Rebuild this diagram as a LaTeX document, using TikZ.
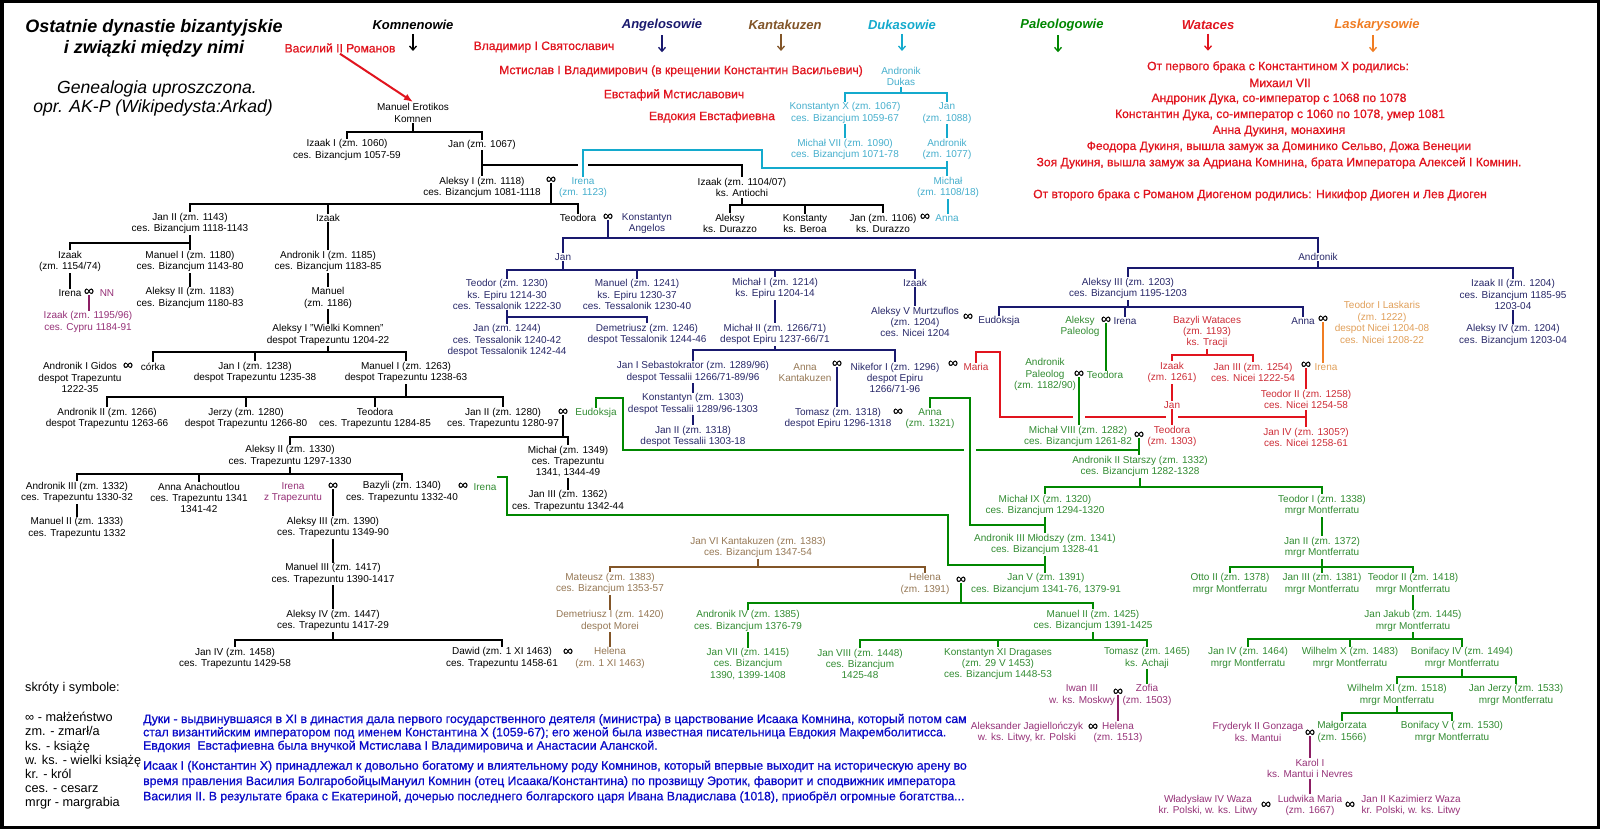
\documentclass[tikz,border=0pt]{standalone}
\usepackage{fontspec}
\setmainfont{Liberation Sans}
\newfontfamily\heavyfont[FakeBold=0.7]{Liberation Sans}
\usetikzlibrary{arrows.meta,calc}
\definecolor{cnavy}{RGB}{25,25,110}
\definecolor{tnavy}{RGB}{40,40,105}
\definecolor{cbrown}{RGB}{130,85,40}
\definecolor{tbrown}{RGB}{150,120,85}
\definecolor{ccyan}{RGB}{20,170,205}
\definecolor{tcyan}{RGB}{70,175,205}
\definecolor{cgreen}{RGB}{0,135,0}
\definecolor{tgreen}{RGB}{50,140,50}
\definecolor{cred}{RGB}{225,20,30}
\definecolor{tred}{RGB}{205,45,55}
\definecolor{corange}{RGB}{240,125,35}
\definecolor{torange}{RGB}{225,160,90}
\definecolor{cpurple}{RGB}{140,30,100}
\definecolor{tpurple}{RGB}{150,50,120}
\definecolor{cblue}{RGB}{10,10,200}
\tikzset{
  base/.style={inner sep=1.5pt, align=center, font=\fontsize{10}{11.4}\selectfont},
  nk/.style={base,text=black},
  nn/.style={base,text=tnavy},
  nc/.style={base,text=tcyan},
  ng/.style={base,text=tgreen},
  nb/.style={base,text=tbrown},
  nr/.style={base,text=tred},
  no/.style={base,text=torange},
  np/.style={base,text=tpurple},
  mar/.style={inner sep=0.5pt, font=\heavyfont\fontsize{14}{14}\selectfont, text=black},
  hd/.style={inner sep=1pt, font=\fontsize{13}{15}\selectfont\bfseries\itshape},
  harr/.style={line width=1.3pt, -{Straight Barb[length=4pt,width=7pt]}},
  ttl/.style={inner sep=0pt, font=\fontsize{18}{20}\selectfont\bfseries\itshape},
  sub/.style={inner sep=0pt, font=\fontsize{17.6}{19}\selectfont\itshape},
  ru/.style={inner sep=1pt, font=\heavyfont\fontsize{12.1}{13}\selectfont, text=cred},
  leg/.style={inner sep=0pt, anchor=west, font=\fontsize{12.7}{14}\selectfont, text height=9.5pt, text depth=3pt},
  blu/.style={inner sep=0pt, anchor=west, font=\heavyfont\fontsize{12.25}{14}\selectfont, text=cblue, text height=9pt, text depth=3pt},
  Lk/.style={line width=1.8pt, black, line cap=rect},
  Ln/.style={line width=1.8pt, cnavy, line cap=rect},
  Lc/.style={line width=1.8pt, ccyan, line cap=rect},
  Lg/.style={line width=1.8pt, cgreen, line cap=rect},
  Lb/.style={line width=1.8pt, cbrown, line cap=rect},
  Lr/.style={line width=1.8pt, cred, line cap=rect},
  Lo/.style={line width=1.8pt, corange, line cap=rect},
  Lp/.style={line width=1.8pt, cpurple, line cap=rect},
}
\newcommand\kin[6]{%
  \draw[#1] (#2) -- (#2 |- 0,#3);
  \draw[#1] (#4.north |- 0,#3) -- (#5.north |- 0,#3);
  \foreach \kid in {#6}{\draw[#1] (\kid.north) -- (\kid.north |- 0,#3);}
}
\newcommand\vl[3]{\draw[#1] (#2.south) -- (#2.south |- #3.north);}
\begin{document}
\begin{tikzpicture}[x=1pt,y=-1pt]
\useasboundingbox (0,0) rectangle (1600,829);
\fill[white] (0,0) rectangle (1600,829);
\draw[line width=3.5pt] (1.75,1.75) rectangle (1598.25,827.25);

% ---------- titles
\node[ttl] (t1) at (154,28) {Ostatnie dynastie bizantyjskie};
\node[ttl] (t2) at (154,49) {i związki między nimi};
\node[sub] (t3) at (157,89) {Genealogia uproszczona.};
\node[sub] (t4) at (153,108) {opr. AK-P (Wikipedysta:Arkad)};

% ---------- dynasty headers
\node[hd,text=black] (hKom) at (413,25) {Komnenowie};
\node[hd,text=cnavy] (hAng) at (662,25) {Angelosowie};
\node[hd,text=cbrown] (hKan) at (785,25) {Kantakuzen};
\node[hd,text=ccyan] (hDuk) at (902,25) {Dukasowie};
\node[hd,text=cgreen] (hPal) at (1062,25) {Paleologowie};
\node[hd,text=cred] (hWat) at (1208,25) {Wataces};
\node[hd,text=corange] (hLas) at (1377,25) {Laskarysowie};
\draw[harr,black] ([yshift=-3pt]hKom.south) -- ++(0,17);
\draw[harr,cnavy] ([yshift=-3pt]hAng.south) -- ++(0,17);
\draw[harr,cbrown] ([yshift=-3pt,xshift=-4pt]hKan.south) -- ++(0,17);
\draw[harr,ccyan] ([yshift=-3pt]hDuk.south) -- ++(0,17);
\draw[harr,cgreen] ([yshift=-3pt,xshift=-4pt]hPal.south) -- ++(0,17);
\draw[harr,cred] ([yshift=-3pt]hWat.south) -- ++(0,17);
\draw[harr,corange] ([yshift=-3pt,xshift=-4pt]hLas.south) -- ++(0,17);

% ---------- red russian notes
\node[ru] (vas) at (340,48) {Василий II Романов};
\node[ru] (vla) at (544,47) {Владимир I Святославич};
\node[ru] (mst) at (681,71) {Мстислав I Владимирович (в крещении Константин Васильевич)};
\node[ru] (evs) at (674,95) {Евстафий Мстиславович};
\node[ru] (evd) at (712,117) {Евдокия Евстафиевна};
\node[ru] (r1) at (1278,67) {От первого брака с Константином X родились:};
\node[ru] (r2) at (1280,83) {Михаил VII};
\node[ru] (r3) at (1279,99) {Андроник Дука, со-император с 1068 по 1078};
\node[ru] (r4) at (1280,115) {Константин Дука, со-император с 1060 по 1078, умер 1081};
\node[ru] (r5) at (1279,131) {Анна Дукиня, монахиня};
\node[ru] (r6) at (1279,147) {Феодора Дукиня, вышла замуж за Доминико Сельво, Дожа Венеции};
\node[ru] (r7) at (1279,163) {Зоя Дукиня, вышла замуж за Адриана Комнина, брата Императора Алексей I Комнин.};
\node[ru] (r8) at (1260,195) {От второго брака с Романом Диогеном родились: Никифор Диоген и Лев Диоген};

% ---------- Komnenowie (black)
\node[nk] (manE) at (413,113) {Manuel Erotikos\\Komnen};
\node[nk] (izI) at (347,150) {Izaak I (zm. 1060)\\ces. Bizancjum 1057-59};
\node[nk] (jan67) at (482,145) {Jan (zm. 1067)};
\node[nk] (alI) at (482,187.5) {Aleksy I (zm. 1118)\\ces. Bizancjum 1081-1118};
\node[mar] (mal) at (551,180) {∞};
\node[nc] (ir23) at (583,187.5) {Irena\\(zm. 1123)};
\node[nk] (izAnt) at (742,187.5) {Izaak (zm. 1104/07)\\ks. Antiochi};
\node[nk] (janII) at (190,223.5) {Jan II (zm. 1143)\\ces. Bizancjum 1118-1143};
\node[nk] (izS) at (328,218) {Izaak};
\node[nk] (teod) at (578,218) {Teodora};
\node[mar] (mteo) at (608,217) {∞};
\node[nn] (konA) at (647,223.5) {Konstantyn\\Angelos};
\node[nk] (alDur) at (730,223.5) {Aleksy\\ks. Durazzo};
\node[nk] (konB) at (805,223.5) {Konstanty\\ks. Beroa};
\node[nk] (janDur) at (883,223.5) {Jan (zm. 1106)\\ks. Durazzo};
\node[mar] (mjd) at (925,217) {∞};
\node[nc] (annaD) at (947,218) {Anna};
\node[nk] (izK) at (70,261.5) {Izaak\\(zm. 1154/74)};
\node[nk] (manI) at (190,261.5) {Manuel I (zm. 1180)\\ces. Bizancjum 1143-80};
\node[nk] (anI) at (328,261.5) {Andronik I (zm. 1185)\\ces. Bizancjum 1183-85};
\node[nk] (irN) at (70,293) {Irena};
\node[mar] (mir) at (89,292) {∞};
\node[np] (NN) at (107,293) {NN};
\node[np] (izC) at (88,322) {Izaak (zm. 1195/96)\\ces. Cypru 1184-91};
\node[nk] (alII) at (190,298) {Aleksy II  (zm. 1183)\\ces. Bizancjum 1180-83};
\node[nk] (manu) at (328,298) {Manuel\\(zm. 1186)};
\node[nk] (alWK) at (328,335) {Aleksy I "Wielki Komnen"\\despot Trapezuntu 1204-22};
\node[nk] (anGid) at (80,377.5) {Andronik I Gidos\\despot Trapezuntu\\1222-35};
\node[mar] (mgid) at (128,366) {∞};
\node[nk] (corka) at (153,367) {córka};
\node[nk] (janI38) at (255,372.5) {Jan I (zm. 1238)\\despot Trapezuntu 1235-38};
\node[nk] (manI63) at (406,372.5) {Manuel I (zm. 1263)\\despot Trapezuntu 1238-63};
\node[nk] (anII66) at (107,418.5) {Andronik II  (zm. 1266)\\despot Trapezuntu 1263-66};
\node[nk] (jer) at (246,418.5) {Jerzy  (zm. 1280)\\despot Trapezuntu 1266-80};
\node[nk] (teoT) at (375,418.5) {Teodora\\ces. Trapezuntu 1284-85};
\node[nk] (janII80) at (503,418.5) {Jan II (zm. 1280)\\ces. Trapezuntu 1280-97};
\node[mar] (mj80) at (563,412) {∞};
\node[ng] (eud) at (596,413) {Eudoksja};
\node[nk] (alII30) at (290,456) {Aleksy II (zm. 1330)\\ces. Trapezuntu 1297-1330};
\node[nk] (mich49) at (568,461.5) {Michał (zm. 1349)\\ces. Trapezuntu\\1341, 1344-49};
\node[nk] (janIII62) at (568,501) {Jan III (zm. 1362)\\ces. Trapezuntu 1342-44};
\node[nk] (anIII32) at (77,492.5) {Andronik III (zm. 1332)\\ces. Trapezuntu 1330-32};
\node[nk] (annaAn) at (199,498) {Anna Anachoutlou\\ces. Trapezuntu 1341\\1341-42};
\node[np] (irT) at (293,492.5) {Irena\\z Trapezuntu};
\node[mar] (mirT) at (333,486) {∞};
\node[nk] (baz) at (402,492) {Bazyli (zm. 1340)\\ces. Trapezuntu 1332-40};
\node[mar] (mbaz) at (463,486) {∞};
\node[ng] (irG) at (485,487) {Irena};
\node[nk] (manII33) at (77,528) {Manuel II (zm. 1333)\\ces. Trapezuntu 1332};
\node[nk] (alIII90) at (333,527.5) {Aleksy III (zm. 1390)\\ces. Trapezuntu 1349-90};
\node[nk] (manIII) at (333,574) {Manuel III (zm. 1417)\\ces. Trapezuntu 1390-1417};
\node[nk] (alIV47) at (333,620.5) {Aleksy IV (zm. 1447)\\ces. Trapezuntu 1417-29};
\node[nk] (janIV58) at (235,658.5) {Jan IV (zm. 1458)\\ces. Trapezuntu 1429-58};
\node[nk] (daw) at (502,658) {Dawid (zm. 1 XI 1463)\\ces. Trapezuntu 1458-61};
\node[mar] (mdaw) at (568,652) {∞};
\node[nb] (helB) at (610,658) {Helena\\(zm. 1 XI 1463)};

% ---------- Angelosowie (navy)
\node[nn] (janA) at (563,257) {Jan};
\node[nn] (andA) at (1318,257) {Andronik};
\node[nn] (teoE) at (507,294.5) {Teodor (zm. 1230)\\ks. Epiru 1214-30\\ces. Tessalonik 1222-30};
\node[nn] (manE41) at (637,294.5) {Manuel (zm. 1241)\\ks. Epiru 1230-37\\ces. Tessalonik 1230-40};
\node[nn] (michI) at (775,288.5) {Michał I (zm. 1214)\\ks. Epiru  1204-14};
\node[nn] (izA) at (915,283) {Izaak};
\node[nn] (janT44) at (507,340.5) {Jan (zm. 1244)\\ces. Tessalonik 1240-42\\despot Tessalonik 1242-44};
\node[nn] (dem46) at (647,334.5) {Demetriusz (zm. 1246)\\despot Tessalonik 1244-46};
\node[nn] (michII) at (775,334.5) {Michał II (zm. 1266/71)\\despot Epiru  1237-66/71};
\node[nn] (alV) at (915,322) {Aleksy V Murtzuflos\\(zm. 1204)\\ces. Nicei 1204};
\node[mar] (malV) at (968,317) {∞};
\node[nn] (eudA) at (999,321) {Eudoksja};
\node[nn] (alIII03) at (1128,288.5) {Aleksy III  (zm. 1203)\\ces. Bizancjum 1195-1203};
\node[nn] (izII) at (1513,294.5) {Izaak II (zm. 1204)\\ces. Bizancjum 1185-95\\1203-04};
\node[nn] (alIV04) at (1513,335) {Aleksy IV (zm. 1204)\\ces. Bizancjum 1203-04};
\node[ng] (alPal) at (1080,326.5) {Aleksy\\Paleolog};
\node[mar] (mAlP) at (1106,320) {∞};
\node[nn] (irA) at (1125,321) {Irena};
\node[nn] (annaA) at (1303,321) {Anna};
\node[mar] (manna) at (1323,319) {∞};
\node[no] (teoL) at (1382,322.5) {Teodor I Laskaris\\(zm. 1222)\\despot Nicei 1204-08\\ces. Nicei 1208-22};
\node[nr] (bazW) at (1207,332) {Bazyli Wataces\\(zm. 1193)\\ks. Tracji};
\node[nn] (jseb) at (693,372) {Jan I Sebastokrator (zm. 1289/96)\\despot Tessalii 1266/71-89/96};
\node[nb] (annaK) at (805,372.5) {Anna\\Kantakuzen};
\node[mar] (mAK) at (837,364) {∞};
\node[nn] (nik) at (895,378) {Nikefor I (zm. 1296)\\despot Epiru\\1266/71-96};
\node[mar] (mnik) at (953,364) {∞};
\node[nr] (maria) at (976,367) {Maria};
\node[nn] (kon03) at (693,404) {Konstantyn (zm. 1303)\\despot Tessalii 1289/96-1303};
\node[nn] (tom18) at (838,418.5) {Tomasz  (zm. 1318)\\despot Epiru  1296-1318};
\node[mar] (mtom) at (898,412) {∞};
\node[ng] (annaG) at (930,418.5) {Anna\\(zm. 1321)};
\node[nn] (janII18) at (693,436.5) {Jan II (zm. 1318)\\despot Tessalii 1303-18};

% ---------- Dukasowie (cyan)
\node[nc] (anDuk) at (901,76.5) {Andronik\\Dukas};
\node[nc] (konX) at (845,113) {Konstantyn X (zm. 1067)\\ces. Bizancjum 1059-67};
\node[nc] (janDk) at (947,113) {Jan\\(zm. 1088)};
\node[nc] (michVII) at (845,149.5) {Michał VII (zm. 1090)\\ces. Bizancjum 1071-78};
\node[nc] (anDk77) at (947,149.5) {Andronik\\(zm. 1077)};
\node[nc] (michDk) at (948,187.5) {Michał\\(zm. 1108/18)};

% ---------- Paleologowie, Wataces, Laskarysowie
\node[ng] (anPal) at (1045,374.5) {Andronik\\Paleolog\\(zm. 1182/90)};
\node[mar] (mAnP) at (1079,374) {∞};
\node[ng] (teoG) at (1105,375) {Teodora};
\node[nr] (izW) at (1172,372.5) {Izaak\\(zm. 1261)};
\node[nr] (janW) at (1172,405) {Jan};
\node[nr] (janIII54) at (1253,372.5) {Jan III (zm. 1254)\\ces. Nicei 1222-54};
\node[mar] (mj54) at (1306,365) {∞};
\node[no] (irL) at (1326,367) {Irena};
\node[nr] (teoII58) at (1306,399.5) {Teodor II (zm. 1258)\\ces. Nicei 1254-58};
\node[nr] (janIV05) at (1306,437.5) {Jan IV (zm. 1305?)\\ces. Nicei 1258-61};
\node[ng] (michVIII) at (1078,436.5) {Michał VIII (zm. 1282)\\ces. Bizancjum 1261-82};
\node[mar] (mm8) at (1139,435) {∞};
\node[nr] (teo03) at (1172,436.5) {Teodora\\(zm. 1303)};
\node[ng] (anII28) at (1140,466.5) {Andronik II Starszy (zm. 1332)\\ces. Bizancjum 1282-1328};
\node[ng] (michIX) at (1045,505.5) {Michał IX (zm. 1320)\\ces. Bizancjum 1294-1320};
\node[ng] (teoI38) at (1322,505.5) {Teodor I (zm. 1338)\\mrgr Montferratu};
\node[ng] (anIII41) at (1045,544.5) {Andronik III Młodszy (zm. 1341)\\ces. Bizancjum 1328-41};
\node[ng] (janII72) at (1322,547.5) {Jan II (zm. 1372)\\mrgr Montferratu};
\node[ng] (janV) at (1046,584) {Jan V (zm. 1391)\\ces. Bizancjum 1341-76, 1379-91};
\node[nb] (helK) at (925,584) {Helena\\(zm. 1391)};
\node[mar] (mjv) at (961,580) {∞};
\node[nb] (janVI) at (758,547.5) {Jan VI Kantakuzen (zm. 1383)\\ces. Bizancjum 1347-54};
\node[nb] (mat) at (610,583.5) {Mateusz (zm. 1383)\\ces. Bizancjum 1353-57};
\node[nb] (demI) at (610,621) {Demetriusz I (zm. 1420)\\despot Morei};
\node[ng] (anIV) at (748,621) {Andronik IV (zm. 1385)\\ces. Bizancjum 1376-79};
\node[ng] (manII25) at (1093,620.5) {Manuel II (zm. 1425)\\ces. Bizancjum 1391-1425};
\node[ng] (janVII) at (748,664) {Jan VII (zm. 1415)\\ces. Bizancjum\\1390, 1399-1408};
\node[ng] (janVIII) at (860,664) {Jan VIII (zm. 1448)\\ces. Bizancjum\\1425-48};
\node[ng] (konXI) at (998,664) {Konstantyn XI Dragases\\(zm. 29 V 1453)\\ces. Bizancjum 1448-53};
\node[ng] (tomA) at (1147,658) {Tomasz (zm. 1465)\\ks. Achaji};
\node[np] (iwan) at (1082,695) {Iwan III\\w. ks. Moskwy};
\node[mar] (miw) at (1118,692) {∞};
\node[np] (zof) at (1147,695) {Zofia\\(zm. 1503)};
\node[np] (alJ) at (1027,732.5) {Aleksander Jagiellończyk\\w. ks. Litwy, kr. Polski};
\node[mar] (malJ) at (1093,727) {∞};
\node[np] (helP) at (1118,732.5) {Helena\\(zm. 1513)};
\node[ng] (otto) at (1230,584) {Otto II (zm. 1378)\\mrgr Montferratu};
\node[ng] (janIII81) at (1322,584) {Jan III (zm. 1381)\\mrgr Montferratu};
\node[ng] (teoII18) at (1413,584) {Teodor II (zm. 1418)\\mrgr Montferratu};
\node[ng] (janJak) at (1413,621) {Jan Jakub (zm. 1445)\\mrgr Montferratu};
\node[ng] (janIV64) at (1248,658) {Jan IV (zm. 1464)\\mrgr Montferratu};
\node[ng] (wilX) at (1350,658) {Wilhelm X (zm. 1483)\\mrgr Montferratu};
\node[ng] (bonIV) at (1462,658) {Bonifacy IV (zm. 1494)\\mrgr Montferratu};
\node[ng] (wilXI) at (1397,695) {Wilhelm XI (zm. 1518)\\mrgr Montferratu};
\node[ng] (janJer) at (1516,695) {Jan Jerzy (zm. 1533)\\mrgr Montferratu};
\node[ng] (malg) at (1342,732) {Małgorzata\\(zm. 1566)};
\node[ng] (bonV) at (1452,732) {Bonifacy V ( zm. 1530)\\mrgr Montferratu};
\node[np] (fryd) at (1258,732) {Fryderyk II Gonzaga\\ks. Mantui};
\node[mar] (mfr) at (1310,733) {∞};
\node[np] (karol) at (1310,768.5) {Karol I\\ks. Mantui i Nevres};
\node[np] (lud) at (1310,805.5) {Ludwika Maria\\(zm. 1667)};
\node[mar] (ml1) at (1266,805) {∞};
\node[mar] (ml2) at (1350,805) {∞};
\node[np] (wlad) at (1208,805.5) {Władysław IV Waza\\kr. Polski, w. ks. Litwy};
\node[np] (janK) at (1411,805.5) {Jan II Kazimierz Waza\\kr. Polski, w. ks. Litwy};

% ---------- legend
\node[leg] (l0) at (25,688) {skróty i symbole:};
\node[leg] (l1) at (25,718) {∞ - małżeństwo};
\node[leg] (l2) at (25,732.5) {zm. - zmarł/a};
\node[leg] (l3) at (25,747) {ks. - książę};
\node[leg] (l4) at (25,761.5) {w. ks. - wielki książę};
\node[leg] (l5) at (25,775.5) {kr. - król};
\node[leg] (l6) at (25,789.5) {ces. - cesarz};
\node[leg] (l7) at (25,803.5) {mrgr - margrabia};

% ---------- blue notes
\node[blu] (b1) at (143,720) {Дуки - выдвинувшаяся в XI в династия дала первого государственного деятеля (министра) в царствование Исаака Комнина, который потом сам};
\node[blu] (b2) at (143,733.3) {стал византийским императором под именем Константина X (1059-67); его женой была известная писательница Евдокия Макремболитисса.};
\node[blu] (b3) at (143,746.7) {Евдокия\ \ Евстафиевна была внучкой Мстислава I Владимировича и Анастасии Аланской.};
\node[blu] (b4) at (143,766.7) {Исаак I (Константин X) принадлежал к довольно богатому и влиятельному роду Комнинов, который впервые выходит на историческую арену во};
\node[blu] (b5) at (143,782) {время правления Василия БолгаробойцыМануил Комнин (отец Исаака/Константина) по прозвищу Эротик, фаворит и сподвижник императора};
\node[blu] (b6) at (143,797.3) {Василия II. В результате брака с Екатериной, дочерью последнего болгарского царя Ивана Владислава (1018), приобрёл огромные богатства...};

% ================= connectors
\draw[cred, line width=2pt, -{Latex[length=9pt,width=7pt]}] (vas.south) -- (manE.north);

% black
\kin{Lk}{manE.south}{132}{izI}{jan67}{izI,jan67}
\vl{Lk}{jan67}{alI}
\draw[Lk] (jan67.south |- 0,165) -- ($(ir23.north |- 0,165)+(-6,0)$);
\draw[Lk] ($(ir23.north |- 0,165)+(6,0)$) -- (izAnt.north |- 0,165) -- (izAnt.north);
\kin{Lk}{mal.south}{204}{janII}{teod}{janII,izS,teod}
\kin{Lk}{izAnt.south}{205}{alDur}{janDur}{alDur,konB,janDur}
\kin{Lk}{janII.south}{243}{izK}{manI}{izK,manI}
\vl{Lk}{izS}{anI}
\vl{Lk}{izK}{irN}
\vl{Lk}{manI}{alII}
\vl{Lk}{anI}{manu}
\vl{Lk}{manu}{alWK}
\kin{Lk}{alWK.south}{352}{corka}{manI63}{corka,janI38,manI63}
\kin{Lk}{manI63.south}{397}{anII66}{janII80}{anII66,jer,teoT,janII80}
\kin{Lk}{mj80.south}{437}{alII30}{mich49}{alII30,mich49}
\vl{Lk}{mich49}{janIII62}
\kin{Lk}{alII30.south}{474}{anIII32}{baz}{anIII32,annaAn,baz}
\vl{Lk}{anIII32}{manII33}
\vl{Lk}{mirT}{alIII90}
\vl{Lk}{alIII90}{manIII}
\vl{Lk}{manIII}{alIV47}
\kin{Lk}{alIV47.south}{640}{janIV58}{daw}{janIV58,daw}

% navy
\kin{Ln}{mteo.south}{238}{janA}{andA}{janA,andA}
\kin{Ln}{janA.south}{270}{teoE}{izA}{teoE,manE41,michI,izA}
\kin{Ln}{teoE.south}{317}{janT44}{dem46}{janT44,dem46}
\vl{Ln}{michI}{michII}
\kin{Ln}{michII.south}{350}{jseb}{nik}{jseb,nik}
\vl{Ln}{jseb}{kon03}
\vl{Ln}{kon03}{janII18}
\vl{Ln}{mAK}{tom18}
\vl{Ln}{izA}{alV}
\kin{Ln}{andA.south}{268}{alIII03}{izII}{alIII03,izII}
\kin{Ln}{alIII03.south}{307}{eudA}{annaA}{eudA,irA,annaA}
\vl{Ln}{izII}{alIV04}

% cyan
\kin{Lc}{anDuk.south}{93}{konX}{janDk}{konX,janDk}
\vl{Lc}{konX}{michVII}
\vl{Lc}{janDk}{anDk77}
\vl{Lc}{anDk77}{michDk}
\vl{Lc}{michDk}{annaD}
\coordinate (cyj) at (762,168);
\draw[Lc] (ir23.north) |- (cyj |- 0,150) -- (cyj) -- (cyj -| anDk77.south);

% green
\vl{Lg}{mAlP}{teoG}
\vl{Lg}{mAnP}{michVIII}
\vl{Lg}{mm8}{anII28}
\coordinate (eg) at (623,450);
\coordinate (ag) at (970,398);
\draw[Lg] (eud.north) |- (eg |- 0,398) -- (eg) -- ($(ag |- eg)+(-7,0)$);
\draw[Lg] ($(ag |- eg)+(7,0)$) -- (eg -| mm8.south);
\draw[Lg] (annaG.north) |- (ag) -- (ag |- 0,525) -- (michIX.south |- 0,525);
\kin{Lg}{anII28.south}{487}{michIX}{teoI38}{michIX,teoI38}
\vl{Lg}{michIX}{anIII41}
\coordinate (ig1) at (507,477);
\coordinate (ig2) at (948,515);
\draw[Lg] (irG.north east |- ig1) -- (ig1) -- (ig1 |- ig2) -- (ig2) -- (ig2 |- 0,565) -- (anIII41.south |- 0,565);
\vl{Lg}{anIII41}{janV}
\kin{Lg}{mjv.south}{603}{anIV}{manII25}{anIV,manII25}
\vl{Lg}{anIV}{janVII}
\kin{Lg}{manII25.south}{640}{janVIII}{tomA}{janVIII,konXI,tomA}
\vl{Lg}{tomA}{zof}
\vl{Lg}{teoI38}{janII72}
\kin{Lg}{janII72.south}{567}{otto}{teoII18}{otto,janIII81,teoII18}
\vl{Lg}{teoII18}{janJak}
\kin{Lg}{janJak.south}{639}{janIV64}{bonIV}{janIV64,wilX,bonIV}
\kin{Lg}{bonIV.south}{677}{wilXI}{janJer}{wilXI,janJer}
\kin{Lg}{wilXI.south}{713}{malg}{bonV}{malg,bonV}

% brown
\kin{Lb}{janVI.south}{567}{mat}{helK}{mat,helK}
\vl{Lb}{mat}{demI}
\vl{Lb}{demI}{helB}

% red
\kin{Lr}{bazW.south}{355}{izW}{janIII54}{izW,janIII54}
\vl{Lr}{izW}{janW}
\vl{Lr}{janW}{teo03}
\vl{Lr}{mj54}{teoII58}
\vl{Lr}{teoII58}{janIV05}
\coordinate (mr) at (1000,352);
\draw[Lr] (maria.north) |- (mr) -- (mr |- 0,417) -- ($(mAnP.south |- 0,417)+(-7,0)$);
\draw[Lr] ($(mAnP.south |- 0,417)+(7,0)$) -- ($(janW.south |- 0,417)+(-7,0)$);
\draw[Lr] ($(janW.south |- 0,417)+(7,0)$) -- (teoII58.south |- 0,417);

% orange
\vl{Lo}{manna}{irL}

% purple
\vl{Lp}{mir}{izC}
\vl{Lp}{miw}{helP}
\vl{Lp}{mfr}{karol}
\vl{Lp}{karol}{lud}
\end{tikzpicture}
\end{document}
